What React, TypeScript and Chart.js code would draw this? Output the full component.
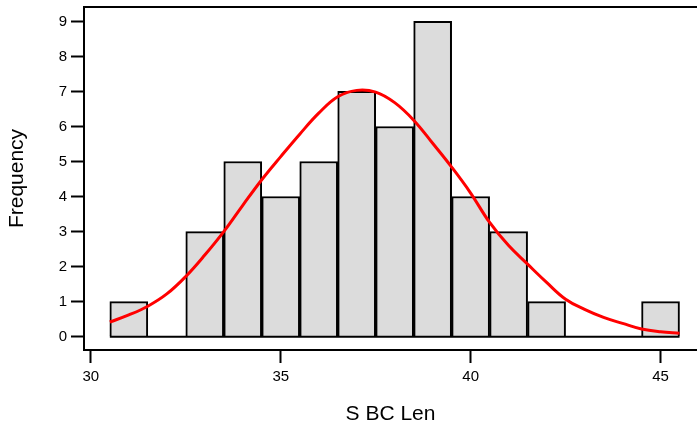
import React, { useEffect, useRef } from 'react';
import { Chart, registerables } from 'chart.js';

Chart.register(...registerables);

const binCenters = [31, 32, 33, 34, 35, 36, 37, 38, 39, 40, 41, 42, 43, 44, 45];
const frequencies = [1, 0, 3, 5, 4, 5, 7, 6, 9, 4, 3, 1, 0, 0, 1];

const curveX = [30.5, 31, 31.5, 32, 32.5, 33, 33.5, 34, 34.5, 35, 35.5, 36, 36.5, 37, 37.5, 38, 38.5, 39, 39.5, 40, 40.5, 41, 41.5, 42, 42.5, 43, 43.5, 44, 44.5, 45, 45.5];
const curveY = [0.42, 0.62, 0.87, 1.22, 1.72, 2.33, 3.0, 3.75, 4.48, 5.14, 5.78, 6.38, 6.85, 7.03, 6.98, 6.68, 6.18, 5.52, 4.84, 4.1, 3.26, 2.6, 2.07, 1.55, 1.07, 0.78, 0.55, 0.38, 0.22, 0.14, 0.1];

const baselineX = [30.5, 45.5];

const xTicks = [30, 35, 40, 45];
const yTicks = [0, 1, 2, 3, 4, 5, 6, 7, 8, 9];

const FONT = "'Liberation Sans', Arial, Helvetica, sans-serif";

export default function App() {
  const ref = useRef<HTMLCanvasElement>(null);

  useEffect(() => {
    if (!ref.current) return;
    const topBorder = {
      id: 'topBorder',
      afterDraw(chart: any) {
        const { ctx, chartArea } = chart;
        ctx.save();
        ctx.strokeStyle = '#000';
        ctx.lineWidth = 2;
        ctx.beginPath();
        ctx.moveTo(chartArea.left - 1, chartArea.top);
        ctx.lineTo(chartArea.right, chartArea.top);
        ctx.stroke();
        ctx.restore();
      },
    };

    const chart = new Chart(ref.current, {
      type: 'bar',
      data: {
        datasets: [
          {
            type: 'line',
            data: curveX.map((x, i) => ({ x, y: curveY[i] })),
            borderColor: '#ff0000',
            borderWidth: 3,
            pointRadius: 0,
            tension: 0.4,
            fill: false,
            order: 0,
          } as any,
          {
            type: 'line',
            data: baselineX.map((x) => ({ x, y: 0 })),
            borderColor: '#000',
            borderWidth: 2,
            pointRadius: 0,
            fill: false,
            order: 1,
          } as any,
          {
            type: 'bar',
            data: binCenters.map((x, i) => ({ x, y: frequencies[i] })),
            backgroundColor: '#dcdcdc',
            borderColor: '#000',
            borderWidth: 2,
            barPercentage: 1,
            categoryPercentage: 1,
            order: 2,
          } as any,
        ],
      },
      options: {
        responsive: false,
        animation: false,
        layout: { padding: { top: 7, right: 0, left: 0, bottom: 0 } },
        plugins: { legend: { display: false }, tooltip: { enabled: false } },
        scales: {
          x: {
            type: 'linear',
            position: 'bottom',
            offset: false,
            min: 29.82,
            max: 45.96,
            afterBuildTicks: (s: any) => {
              s.ticks = xTicks.map((v) => ({ value: v }));
            },
            afterFit: (s: any) => {
              s.height = 77;
              s.paddingLeft = 0;
              s.paddingRight = 0;
            },
            grid: {
              offset: false,
              drawOnChartArea: false,
              drawTicks: true,
              tickLength: 13,
              tickWidth: 2,
              tickColor: '#000',
              color: '#000',
            },
            border: { display: true, color: '#000', width: 2 },
            ticks: {
              color: '#000',
              font: { family: FONT, size: 15 },
              padding: 5,
              maxRotation: 0,
              autoSkip: false,
            },
            title: {
              display: true,
              text: 'S BC Len',
              color: '#000',
              font: { family: FONT, size: 21 },
              padding: { top: 0, bottom: 0 },
            },
          },
          y: {
            type: 'linear',
            min: -0.38,
            max: 9.41,
            afterBuildTicks: (s: any) => {
              s.ticks = yTicks.map((v) => ({ value: v }));
            },
            afterFit: (s: any) => {
              s.width = 84;
              s.paddingTop = 0;
              s.paddingBottom = 0;
            },
            grid: {
              drawOnChartArea: false,
              drawTicks: true,
              tickLength: 13,
              tickWidth: 2,
              tickColor: '#000',
              color: '#000',
            },
            border: { display: true, color: '#000', width: 2 },
            ticks: {
              color: '#000',
              font: { family: FONT, size: 15 },
              padding: 4,
              autoSkip: false,
            },
            title: {
              display: true,
              text: 'Frequency',
              color: '#000',
              font: { family: FONT, size: 21 },
              padding: { top: 5, bottom: 0 },
            },
          },
        },
      } as any,
      plugins: [topBorder],
    });
    return () => chart.destroy();
  }, []);

  return (
    <div style={{ position: 'fixed', left: 0, top: 0, width: 697, height: 427, background: '#fff' }}>
      <canvas ref={ref} width={697} height={427} style={{ width: 697, height: 427 }} />
    </div>
  );
}
